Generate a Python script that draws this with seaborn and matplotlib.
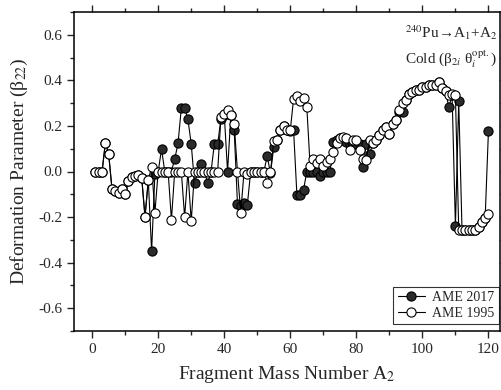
import matplotlib
matplotlib.use("Agg")
import matplotlib.pyplot as plt
import seaborn as sns
import pandas as pd
from matplotlib.ticker import MultipleLocator

# ---- data ----
mass_A2 = list(range(1, 121))

ame1995 = [
    0.000, 0.000, 0.000, 0.126, 0.076, -0.076, -0.084, -0.095, -0.078, -0.100,   # 1-10
    -0.040, -0.023, -0.018, -0.015, -0.027, -0.199, -0.037, 0.021, -0.180, 0.000,  # 11-20
    0.000, 0.000, 0.000, -0.212, 0.000, 0.000, 0.000, -0.200, 0.000, -0.219,       # 21-30
    0.000, 0.000, 0.000, 0.000, 0.000, 0.000, 0.000, 0.000, 0.237, 0.254,          # 31-40
    0.269, 0.250, 0.210, 0.000, -0.180, 0.000, -0.010, 0.000, 0.000, 0.000,        # 41-50
    0.000, 0.000, -0.052, 0.000, 0.133, 0.137, 0.181, 0.200, 0.181, 0.181,         # 51-60
    0.320, 0.330, 0.310, 0.324, 0.283, 0.024, 0.053, 0.038, 0.053, 0.024,          # 61-70
    0.043, 0.053, 0.087, 0.126, 0.149, 0.152, 0.145, 0.094, 0.138, 0.140,          # 71-80
    0.094, 0.053, 0.050, 0.138, 0.126, 0.140, 0.159, 0.181, 0.196, 0.164,          # 81-90
    0.210, 0.228, 0.270, 0.300, 0.312, 0.341, 0.349, 0.359, 0.359, 0.370,          # 91-100
    0.373, 0.378, 0.380, 0.381, 0.392, 0.368, 0.353, 0.334, 0.340, 0.334,          # 101-110
    -0.255, -0.258, -0.258, -0.258, -0.258, -0.255, -0.245, -0.222, -0.205, -0.186, # 111-120
]

ame2017 = [
    0.000, 0.000, 0.000, 0.126, 0.076, -0.076, -0.084, -0.095, -0.078, -0.100,   # 1-10
    -0.040, -0.023, -0.018, -0.015, -0.027, -0.199, -0.037, -0.350, -0.012, 0.000, # 11-20
    0.098, 0.000, 0.000, 0.000, 0.055, 0.123, 0.279, 0.279, 0.229, 0.120,          # 21-30
    -0.052, 0.000, 0.034, 0.000, -0.052, 0.000, 0.120, 0.120, 0.232, 0.250,        # 31-40
    0.000, 0.250, 0.184, -0.142, -0.151, -0.139, -0.145, 0.000, 0.000, 0.000,      # 41-50
    0.000, 0.000, 0.068, -0.008, 0.108, 0.137, 0.181, 0.200, 0.181, 0.178,         # 51-60
    0.180, -0.103, -0.103, -0.081, 0.000, 0.000, 0.000, 0.000, -0.020, 0.000,      # 61-70
    0.000, 0.000, 0.130, 0.140, 0.145, 0.138, 0.130, 0.120, 0.120, 0.120,          # 71-80
    0.120, 0.021, 0.120, 0.075, 0.126, 0.140, 0.159, 0.181, 0.196, 0.164,          # 81-90
    0.210, 0.228, 0.262, 0.262, 0.312, 0.341, 0.349, 0.359, 0.359, 0.370,          # 91-100
    0.373, 0.378, 0.380, 0.381, 0.392, 0.368, 0.353, 0.283, 0.334, -0.241,         # 101-110
    0.310, -0.258, -0.258, -0.258, -0.258, -0.255, -0.245, -0.222, -0.205, 0.177,  # 111-120
]

series_labels = ["AME 2017", "AME 1995"]

df17 = pd.DataFrame({"A": mass_A2, "beta": ame2017})
df95 = pd.DataFrame({"A": mass_A2, "beta": ame1995})

# ---- style ----
sns.set_style("ticks")
plt.rcParams["font.family"] = ["Liberation Serif", "DejaVu Serif"]
plt.rcParams["mathtext.fontset"] = "stix"

fig = plt.figure(figsize=(5.02, 3.90), dpi=100)
ax = fig.add_axes([74 / 502, 1 - 331 / 390, (500 - 74) / 502, (331 - 12) / 390])

sns.lineplot(data=df17, x="A", y="beta", ax=ax, color="black", linewidth=0.8,
             marker="o", markersize=6.6, markerfacecolor="#2b2b2b",
             markeredgecolor="black", markeredgewidth=0.8,
             estimator=None, sort=False, label=series_labels[0])
sns.lineplot(data=df95, x="A", y="beta", ax=ax, color="black", linewidth=0.8,
             marker="o", markersize=6.6, markerfacecolor="white",
             markeredgecolor="black", markeredgewidth=0.8,
             estimator=None, sort=False, label=series_labels[1])

ax.set_xlim(-5.5, 123.5)
ax.set_ylim(-0.7, 0.7)
ax.xaxis.set_major_locator(MultipleLocator(20))
ax.xaxis.set_minor_locator(MultipleLocator(10))
ax.yaxis.set_major_locator(MultipleLocator(0.2))
ax.yaxis.set_minor_locator(MultipleLocator(0.1))
ax.yaxis.set_major_formatter(matplotlib.ticker.FormatStrFormatter("%.1f"))
ax.tick_params(which="major", direction="out", length=5, width=1, labelsize=11,
               top=True, right=True)
ax.tick_params(which="minor", direction="out", length=3, width=1,
               top=True, right=True)
for sp in ax.spines.values():
    sp.set_linewidth(1.1)
    sp.set_color("black")

ax.set_xlabel("Fragment Mass Number A$_2$", fontsize=14, labelpad=6)
ax.set_ylabel("Deformation Parameter (β$_{22}$)", fontsize=14, labelpad=6)

ax.text(0.995, 0.965, "$^{240}$Pu→A$_1$+A$_2$", transform=ax.transAxes,
        ha="right", va="top", fontsize=11)
ax.text(0.993, 0.885, "Cold (β$_{2i}$ θ$_i^{\\mathrm{opt.}}$)", transform=ax.transAxes,
        ha="right", va="top", fontsize=11)

leg = ax.legend(loc="lower right", bbox_to_anchor=(0.997, 0.022), frameon=True,
                fancybox=False, fontsize=10, edgecolor="black", borderaxespad=0,
                handlelength=2.0, handletextpad=0.5,
                borderpad=0.3, labelspacing=0.2)
leg.get_frame().set_linewidth(0.8)

fig.savefig("out.png", dpi=100)
